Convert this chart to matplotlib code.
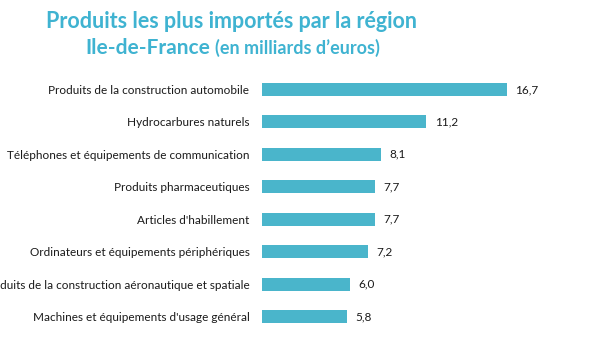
import matplotlib.pyplot as plt

# Importations Ile-de-France, en milliards d'euros
produits = [
    "Produits de la construction automobile",
    "Hydrocarbures naturels",
    "Téléphones et équipements de communication",
    "Produits pharmaceutiques",
    "Articles d'habillement",
    "Ordinateurs et équipements périphériques",
    "Produits de la construction aéronautique et spatiale",
    "Machines et équipements d'usage général",
]
valeurs = [16.7, 11.2, 8.1, 7.7, 7.7, 7.2, 6.0, 5.8]
etiquettes = ["16,7", "11,2", "8,1", "7,7", "7,7", "7,2", "6,0", "5,8"]

bleu = "#4ab5cb"
titre_col = "#3fb3d1"

plt.rcParams['font.family'] = ['Lato', 'DejaVu Sans']

fig = plt.figure(figsize=(6, 3.5), dpi=100)
ax = fig.add_axes([262/600, 1 - 332.7/350, 328/600, 259.4/350])

ypos = list(range(len(produits)))
ax.barh(ypos, valeurs, height=0.4, color=bleu)
ax.set_ylim(len(produits) - 0.5, -0.5)
ax.set_xlim(0, 328/14.67)

ax.set_yticks(ypos)
ax.set_yticklabels(produits, fontsize=8.5, color="#1a1a1a")
ax.tick_params(axis='y', length=0, pad=9)
ax.set_xticks([])
for s in ax.spines.values():
    s.set_visible(False)

# valeurs au bout des barres
for y, v, t in zip(ypos, valeurs, etiquettes):
    ax.annotate(t, (v, y), xytext=(6, 0), textcoords='offset points',
                va='center', ha='left', fontsize=8.5, color="#1a1a1a")

# titre
fig.text(231/600, 1 - 21/350, "Produits les plus importés par la région",
         ha='center', va='center', fontsize=15.5, fontweight='bold', color=titre_col)
t1 = fig.text(85/600, 1 - 48/350, "Ile-de-France", ha='left', va='center',
              fontsize=15, fontweight='bold', color=titre_col)
ax.annotate("(en milliards d\u2019euros)", xy=(1, 0.5), xycoords=t1,
            xytext=(4, 0), textcoords='offset points', ha='left', va='center',
            fontsize=13, fontweight='bold', color=titre_col, annotation_clip=False)

fig.savefig("out.png", dpi=100)
